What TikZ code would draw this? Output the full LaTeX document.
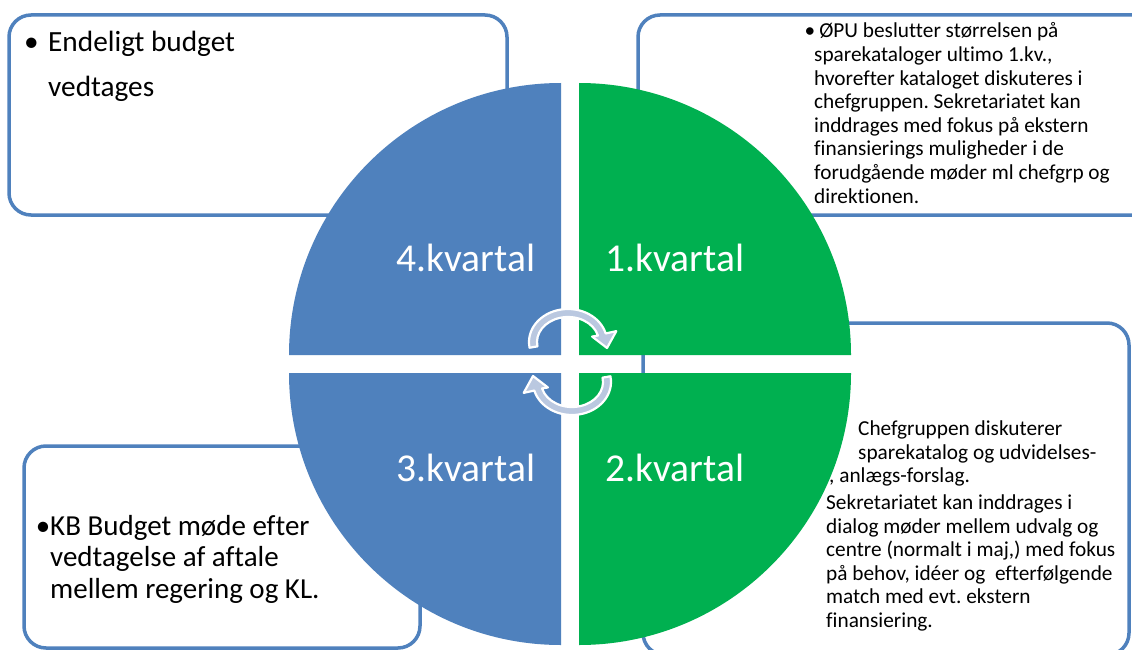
\documentclass[tikz,border=0pt]{standalone}
\usepackage{fontspec}
\setmainfont[Ligatures={NoCommon}]{Carlito}
\frenchspacing
\definecolor{qblue}{HTML}{4F81BD}
\definecolor{qgreen}{HTML}{00B050}
\definecolor{arrowfill}{HTML}{BAC8E0}
\begin{document}
\begin{tikzpicture}[x=1pt,y=-1pt,
  infobox/.style={draw=qblue, line width=3.5pt, fill=white, rounded corners=22pt},
  qlabel/.style={anchor=base, text=white, inner sep=0pt, font=\fontsize{39.5}{45}\selectfont},
  boxtext/.style={anchor=base west, inner sep=0pt, align=left},
  cyclearrow/.style={fill=arrowfill, draw=white, line width=2.2pt, line join=round}]
\useasboundingbox (0,0) rectangle (1132,650);
\clip (0,0) rectangle (1132,650);
\fill[white] (0,0) rectangle (1132,650);

% boxes (behind the circle)
\draw[infobox] (9,15) rectangle (507,215);
\draw[infobox] (638,15) rectangle (1160,215);
\draw[infobox] (643,323) rectangle (1129,655);
\draw[infobox] (24,446) rectangle (420,648);

% box texts (anchor = baseline of the last line)
\node[boxtext, font=\fontsize{29.3}{45}\selectfont] (tltext) at (48,97)
  {\llap{•\hspace{9.5pt}}Endeligt budget\\vedtages};
\node[boxtext, font=\fontsize{21.3}{23.6}\selectfont] (trtext) at (814,203)
  {\hspace*{-9.7pt}•\hspace*{4.2pt}ØPU beslutter størrelsen på\\
   sparekataloger ultimo 1.kv.,\\
   hvorefter kataloget diskuteres i\\
   chefgruppen. Sekretariatet kan\\
   inddrages med fokus på ekstern\\
   finansierings muligheder i de\\
   forudgående møder ml chefgrp og\\
   direktionen.};
\node[boxtext, font=\fontsize{21.3}{23.5}\selectfont] (brtext) at (826,627)
  {\hspace*{32pt}Chefgruppen diskuterer\\
   \hspace*{32pt}sparekatalog og udvidelses-\\
   \hspace*{3pt}, anlægs-forslag.\\[3.5pt]
   Sekretariatet kan inddrages i\\
   dialog møder mellem udvalg og\\
   centre (normalt i maj,) med fokus\\
   på behov, idéer og\ \ efterfølgende\\
   match med evt. ekstern\\
   finansiering.};
\node[boxtext, font=\fontsize{29}{31.5}\selectfont] (bltext) at (50,598)
  {\llap{•}KB Budget møde efter\\
   vedtagelse af aftale\\
   mellem regering og KL.};

% quadrants
\fill[qblue]  (561,355) -- (289,355) arc[start angle=180, end angle=270, radius=272] -- cycle;
\fill[qgreen] (579,355) -- (579,83) arc[start angle=270, end angle=360, radius=272] -- cycle;
\fill[qgreen] (579,373) -- (851,373) arc[start angle=0, end angle=90, radius=272] -- cycle;
\fill[qblue]  (561,373) -- (561,645) arc[start angle=90, end angle=180, radius=272] -- cycle;

% quadrant labels
\node[qlabel] (q4) at (466,271) {4.kvartal};
\node[qlabel] (q1) at (675,271) {1.kvartal};
\node[qlabel] (q3) at (466,481) {3.kvartal};
\node[qlabel] (q2) at (675,481) {2.kvartal};

% circular arrows
\begin{scope}[shift={(568,342)}]
  \path[cyclearrow] (170:39 and 33) arc[start angle=170, end angle=345, x radius=39, y radius=33]
    -- (345:50 and 42) -- (39,6) -- (345:25 and 21) -- (345:31 and 25)
    arc[start angle=345, end angle=170, x radius=31, y radius=25] -- cycle;
\end{scope}
\begin{scope}[rotate around={180:(570,362)}]
\begin{scope}[shift={(568,342)}]
  \path[cyclearrow] (170:39 and 33) arc[start angle=170, end angle=345, x radius=39, y radius=33]
    -- (345:50 and 42) -- (39,6) -- (345:25 and 21) -- (345:31 and 25)
    arc[start angle=345, end angle=170, x radius=31, y radius=25] -- cycle;
\end{scope}
\end{scope}
\end{tikzpicture}
\end{document}
